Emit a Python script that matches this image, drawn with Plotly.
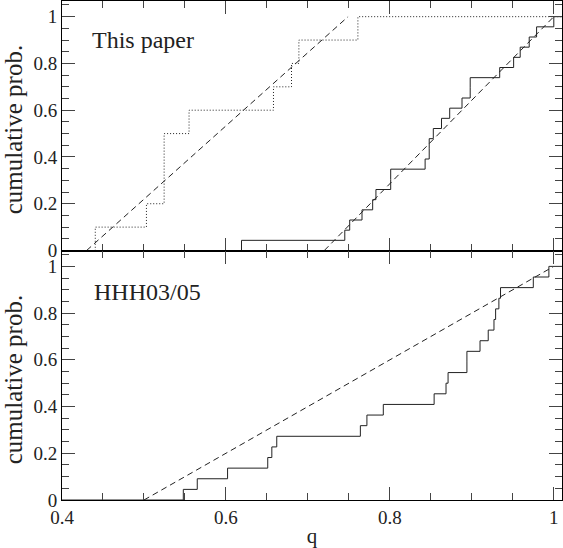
import plotly.graph_objects as go
from plotly.subplots import make_subplots

# q values (sorted)
q_this_paper = [0.619, 0.745, 0.751, 0.766, 0.779, 0.783, 0.801, 0.801, 0.843, 0.848,
                0.848, 0.853, 0.863, 0.873, 0.888, 0.898, 0.898, 0.934, 0.951, 0.959,
                0.970, 0.979, 1.0]
q_this_paper_dotted = [0.4406, 0.503, 0.5246, 0.5246, 0.5246, 0.555, 0.658, 0.680, 0.689, 0.761]
q_hhh = [0.548, 0.565, 0.602, 0.651, 0.656, 0.662, 0.764, 0.772, 0.792, 0.854,
         0.8685, 0.871, 0.894, 0.894, 0.910, 0.920, 0.927, 0.929, 0.933, 0.935,
         0.975, 0.994]

# uniform reference lines (q at prob 0, q at prob 1)
uni_top_left = [0.430, 0.749]
uni_top_right = [0.720, 1.0]
uni_bottom = [0.5, 1.0]

x_min, x_max = 0.4, 1.01
font = "Liberation Serif"
col = "#222"


def cdf(vals):
    n = len(vals)
    xs = [x_min] + list(vals) + [x_max]
    ys = [0] + [(i + 1) / n for i in range(n)] + [1]
    return xs, ys


fig = make_subplots(rows=2, cols=1, shared_xaxes=True, vertical_spacing=0)

x, y = cdf(q_this_paper)
fig.add_trace(go.Scatter(x=x, y=y, mode="lines", line=dict(color=col, width=1, shape="hv")), row=1, col=1)
x, y = cdf(q_this_paper_dotted)
fig.add_trace(go.Scatter(x=x, y=y, mode="lines",
                         line=dict(color=col, width=1, shape="hv", dash="1px,2px")), row=1, col=1)
fig.add_trace(go.Scatter(x=uni_top_left, y=[0, 1], mode="lines",
                         line=dict(color=col, width=1, dash="6px,4px")), row=1, col=1)
fig.add_trace(go.Scatter(x=uni_top_right, y=[0, 1], mode="lines",
                         line=dict(color=col, width=1, dash="6px,4px")), row=1, col=1)

x, y = cdf(q_hhh)
fig.add_trace(go.Scatter(x=x, y=y, mode="lines", line=dict(color=col, width=1, shape="hv")), row=2, col=1)
fig.add_trace(go.Scatter(x=uni_bottom, y=[0, 1], mode="lines",
                         line=dict(color=col, width=1, dash="6px,4px")), row=2, col=1)

axis_style = dict(showgrid=False, zeroline=False, showline=True, linecolor="black", linewidth=1,
                  mirror="ticks", ticks="inside", ticklen=13, tickwidth=1, tickcolor="#444",
                  minor=dict(ticks="inside", ticklen=7, tickwidth=1, tickcolor="#444"),
                  tickfont=dict(family=font, size=19, color=col))

fig.update_xaxes(axis_style, range=[x_min, x_max], dtick=0.2, tick0=0, minor_dtick=0.05)
fig.update_xaxes(showticklabels=False, row=1, col=1)
fig.update_xaxes(title=dict(text="q", font=dict(family=font, size=21, color=col), standoff=2),
                 row=2, col=1)
fig.update_yaxes(axis_style, dtick=0.2, tick0=0, minor_dtick=0.05)
fig.update_yaxes(range=[0, 1.067], row=1, col=1)
fig.update_yaxes(range=[0, 1.068], row=2, col=1)

fig.update_layout(
    width=563, height=548,
    margin=dict(l=62, r=1, t=1, b=48),
    plot_bgcolor="white", paper_bgcolor="white",
    showlegend=False,
    font=dict(family=font, color=col),
    annotations=[
        dict(text="This paper", x=0.4 + 28 / 820, y=0.90, xref="x", yref="y",
             xanchor="left", yanchor="middle", showarrow=False, font=dict(size=24)),
        dict(text="HHH03/05", x=0.4 + 30 / 820, y=0.89, xref="x2", yref="y2",
             xanchor="left", yanchor="middle", showarrow=False, font=dict(size=24)),
        dict(text="cumulative prob.", x=-0.098, y=0.741, xref="paper", yref="paper",
             xanchor="center", yanchor="middle",
             textangle=-90, showarrow=False, font=dict(size=25)),
        dict(text="cumulative prob.", x=-0.098, y=0.24, xref="paper", yref="paper",
             xanchor="center", yanchor="middle",
             textangle=-90, showarrow=False, font=dict(size=25)),
    ],
)

fig.write_html("out.html", post_script="document.body.style.margin='0';",
               config={"displayModeBar": False})
